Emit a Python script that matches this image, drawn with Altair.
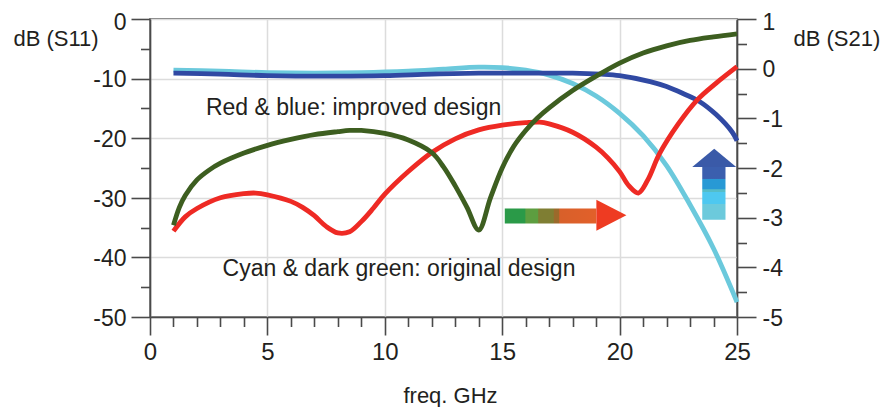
import altair as alt
import pandas as pd

# ---------------- data ----------------
red_freq = [1, 1.5, 2, 3, 4, 4.5, 5, 6, 6.5, 7, 7.5, 8, 8.5, 9, 9.5, 10, 11, 12, 13, 14, 15, 16,
            16.6, 17, 18, 19, 19.5, 20, 20.4, 20.8, 21.2, 21.7, 22.5, 23.3, 24.1, 25]
red_s11 = [-35.6, -33.2, -31.8, -30.0, -29.3, -29.2, -29.5, -30.6, -31.6, -33.0, -34.8, -35.9, -35.7,
           -34.0, -31.8, -29.4, -25.6, -22.4, -20.1, -18.6, -17.8, -17.4, -17.3, -17.6, -19.0,
           -21.5, -23.3, -25.6, -28.0, -29.2, -27.0, -22.6, -17.6, -13.6, -10.8, -8.0]

green_freq = [1, 1.25, 1.5, 2, 2.5, 3, 4, 5, 6, 7, 8, 8.5, 9, 10, 11, 12, 12.5, 13, 13.5, 14.0,
              14.5, 15.0, 15.5, 16.0, 16.5, 17, 18, 19, 20, 21, 22, 23, 24, 25]
green_s11 = [-34.6, -31.6, -29.6, -27.0, -25.4, -24.2, -22.5, -21.2, -20.2, -19.4, -18.9, -18.7,
             -18.7, -19.2, -20.3, -22.4, -24.8, -28.0, -31.6, -35.4, -30.0, -25.0, -21.3, -18.7,
             -16.6, -14.9, -12.0, -9.6, -7.4, -5.7, -4.5, -3.6, -3.0, -2.5]

blue_freq = [1, 3, 5, 8, 10, 12, 14, 16, 18, 19.2, 20, 21.3, 22, 22.7, 23.4, 24.1, 24.8, 25]
blue_s21 = [-0.09, -0.11, -0.14, -0.15, -0.14, -0.11, -0.09, -0.09, -0.09, -0.11, -0.14, -0.26,
            -0.36, -0.50, -0.66, -0.92, -1.28, -1.45]

cyan_freq = [1, 3, 5, 7, 9, 11, 12.5, 14, 15, 16, 17, 18, 19, 20, 21, 22, 23, 24, 25]
cyan_s21 = [-0.03, -0.05, -0.08, -0.09, -0.08, -0.05, -0.01, 0.03, 0.02, -0.03, -0.13, -0.30,
            -0.55, -0.90, -1.35, -1.95, -2.74, -3.62, -4.70]

x_ticks = list(range(0, 26))
s11_ticks = list(range(-50, 1, 5))
s21_ticks = [v / 2 for v in range(-10, 3)]

note_text = ["Red & blue: improved design", "Cyan & dark green: original design"]
note_freq = [2.38, 3.09]
note_s11 = [-16.1, -43.2]

# annotation arrows, in data units (freq, dB S11)
harrow_freq = [15.11, 19.01]
harrow_s11 = [-31.8, -34.3]
harrow_head = [19.65, -32.94]
varrow_freq = [23.52, 24.51]
varrow_s11 = [-24.8, -33.7]
varrow_head = [24.03, -23.3]

# ---------------- styles ----------------
RED = "#ee2a24"
GREEN = "#3d5e20"
BLUE = "#3049a3"
CYAN = "#6bc9dc"
AX = "#4a4a4a"
TXT = "#231f20"
TICKFONT = "Liberation Sans Narrow, Arial Narrow, Liberation Sans, sans-serif"
FONT = "Liberation Sans, Arial, sans-serif"
INTERP = "catmull-rom"

x_axis = alt.Axis(
    values=x_ticks, title="freq. GHz", grid=True,
    labelExpr="datum.value % 5 === 0 ? '' + datum.value : ''",
    tickSize={"condition": {"test": "datum.value % 5 === 0", "value": 18}, "value": 9.5},
    gridColor={"condition": {"test": "datum.value % 5 === 0", "value": "#dcdcdc"}, "value": "transparent"},
    labelFlush=False, labelOverlap=False, labelPadding=5, labelFontSize=24,
    titleX=300, titleY=85, titleAlign="center", titleBaseline="alphabetic",
)
left_axis = alt.Axis(
    orient="left", values=s11_ticks, title="dB (S11)", grid=True,
    labelExpr="datum.value % 10 === 0 ? '' + datum.value : ''",
    tickSize={"condition": {"test": "datum.value % 10 === 0", "value": 19}, "value": 9.5},
    gridColor={"condition": {"test": "datum.value % 10 === 0", "value": "#dcdcdc"}, "value": "transparent"},
    labelOverlap=False, labelPadding=5, labelFlush=False, labelFontSize=23,
    labelBaseline="alphabetic",
    labelOffset={"condition": {"test": "datum.value === 0", "value": 10.3}, "value": 8.3},
    titleAngle=0, titleX=-137, titleY=26, titleAlign="left", titleBaseline="alphabetic",
)
right_axis = alt.Axis(
    orient="right", values=s21_ticks, title="dB (S21)", grid=False,
    labelExpr="datum.value % 1 === 0 ? '' + datum.value : ''",
    tickSize={"condition": {"test": "datum.value % 1 === 0", "value": 19}, "value": 9.5},
    labelOverlap=False, labelPadding=6, labelFlush=False, labelFontSize=23,
    labelBaseline="alphabetic",
    labelOffset={"condition": {"test": "datum.value === 1", "value": 10.3}, "value": 8.3},
    titleAngle=0, titleX=56, titleY=26, titleAlign="left", titleBaseline="alphabetic",
)

x_scale = alt.Scale(domain=[0, 25], nice=False, zero=False)
s11_scale = alt.Scale(domain=[-50, 0], nice=False, zero=False)
s21_scale = alt.Scale(domain=[-5, 1], nice=False, zero=False)

X = alt.X("freq:Q", scale=x_scale, axis=x_axis)
YL = alt.Y("s11:Q", scale=s11_scale, axis=left_axis)
YR = alt.Y("s21:Q", scale=s21_scale, axis=right_axis)

red_df = pd.DataFrame({"freq": red_freq, "s11": red_s11})
green_df = pd.DataFrame({"freq": green_freq, "s11": green_s11})
blue_df = pd.DataFrame({"freq": blue_freq, "s21": blue_s21})
cyan_df = pd.DataFrame({"freq": cyan_freq, "s21": cyan_s21})

def line(df, y, color):
    return alt.Chart(df).mark_line(color=color, strokeWidth=4.8, interpolate=INTERP).encode(
        x=X, y=y)

notes = alt.Chart(pd.DataFrame({"freq": note_freq, "s11": note_s11, "t": note_text})).mark_text(
    align="left", baseline="alphabetic", font=FONT, fontSize=23, color=TXT
).encode(x=X, y=YL, text="t:N")

h_grad = alt.Gradient(
    gradient="linear", x1=0, x2=1, y1=0, y2=0,
    stops=[
        alt.GradientStop(offset=0.0, color="#2a9a48"),
        alt.GradientStop(offset=0.22, color="#2a9a48"),
        alt.GradientStop(offset=0.23, color="#5d9e40"),
        alt.GradientStop(offset=0.36, color="#5d9e40"),
        alt.GradientStop(offset=0.37, color="#7f7e33"),
        alt.GradientStop(offset=0.53, color="#7f7e33"),
        alt.GradientStop(offset=0.54, color="#9b6a2b"),
        alt.GradientStop(offset=0.59, color="#9b6a2b"),
        alt.GradientStop(offset=0.60, color="#d8602a"),
        alt.GradientStop(offset=1.0, color="#e2602a"),
    ],
)
v_grad = alt.Gradient(
    gradient="linear", x1=0, x2=0, y1=0, y2=1,
    stops=[
        alt.GradientStop(offset=0.0, color="#3b5fae"),
        alt.GradientStop(offset=0.22, color="#3b5fae"),
        alt.GradientStop(offset=0.23, color="#2899d5"),
        alt.GradientStop(offset=0.42, color="#2899d5"),
        alt.GradientStop(offset=0.43, color="#55bdc8"),
        alt.GradientStop(offset=0.47, color="#55bdc8"),
        alt.GradientStop(offset=0.48, color="#4ec8f0"),
        alt.GradientStop(offset=0.70, color="#4ec8f0"),
        alt.GradientStop(offset=0.71, color="#6ccadc"),
        alt.GradientStop(offset=1.0, color="#6ccadc"),
    ],
)

h_body = alt.Chart(pd.DataFrame({"freq": [harrow_freq[0]], "freq2": [harrow_freq[1]],
                                 "s11": [harrow_s11[0]], "s11b": [harrow_s11[1]]})).mark_rect(
    color=h_grad).encode(x=X, x2="freq2:Q", y=YL, y2="s11b:Q")
h_head = alt.Chart(pd.DataFrame({"freq": [harrow_head[0]], "s11": [harrow_head[1]]})).mark_point(
    shape="M-0.97,-1L0.97,0L-0.97,1Z", size=961, filled=True, color="#ee3b22", opacity=1,
    strokeWidth=0).encode(x=X, y=YL)
v_body = alt.Chart(pd.DataFrame({"freq": [varrow_freq[0]], "freq2": [varrow_freq[1]],
                                 "s11": [varrow_s11[0]], "s11b": [varrow_s11[1]]})).mark_rect(
    color=v_grad).encode(x=X, x2="freq2:Q", y=YL, y2="s11b:Q")
v_head = alt.Chart(pd.DataFrame({"freq": [varrow_head[0]], "s11": [varrow_head[1]]})).mark_point(
    shape="M-1,0.41L0,-0.41L1,0.41Z", size=1936, filled=True, color="#3a5aa8", opacity=1,
    strokeWidth=0).encode(x=X, y=YL)

right = alt.layer(line(cyan_df, YR, CYAN), line(blue_df, YR, BLUE))
left = alt.layer(line(red_df, YL, RED), line(green_df, YL, GREEN), notes, h_body, h_head, v_body, v_head)

chart = alt.layer(right, left).resolve_scale(y="independent").properties(
    width=587, height=298,
    background="white",
    autosize=alt.AutoSizeParams(type="none"),
    padding={"left": 142, "top": 11, "right": 146, "bottom": 90},
).configure_view(
    stroke=AX, strokeWidth=1.6
).configure_axis(
    domainColor=AX, domainWidth=1.6, tickColor=AX, tickWidth=1.6, gridWidth=1.5,
    labelFont=TICKFONT, labelColor=TXT,
    titleFont=FONT, titleFontSize=22, titleColor=TXT, titleFontWeight="normal",
)

chart.save("out.html", embed_options={"renderer": "svg", "actions": False})
